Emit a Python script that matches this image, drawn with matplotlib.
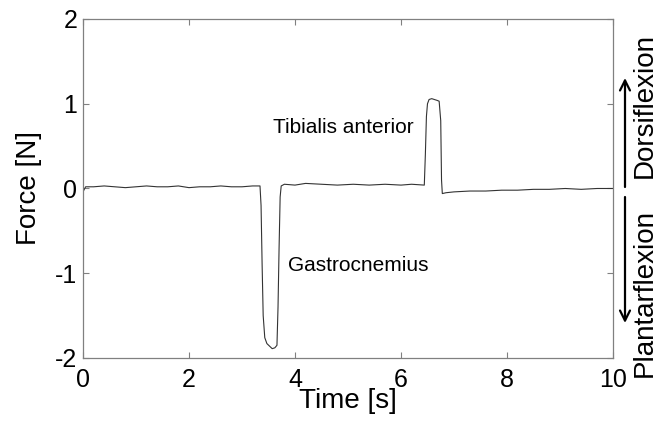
import numpy as np
import matplotlib
matplotlib.use("Agg")
import matplotlib.pyplot as plt

plt.rcParams['font.family'] = ['Liberation Sans', 'DejaVu Sans']
plt.rcParams['axes.unicode_minus'] = False

# Force trace (time in s, force in N)
t_base1 = [0.0, 0.05, 0.2, 0.4, 0.6, 0.8, 1.0, 1.2, 1.4, 1.6, 1.8, 2.0,
           2.2, 2.4, 2.6, 2.8, 3.0, 3.2, 3.34]
f_base1 = [-0.04, 0.02, 0.02, 0.03, 0.02, 0.01, 0.02, 0.03, 0.02, 0.02,
           0.03, 0.01, 0.02, 0.02, 0.03, 0.02, 0.02, 0.03, 0.03]

t_gastro = [3.36, 3.38, 3.40, 3.43, 3.47, 3.52, 3.57, 3.62, 3.66, 3.68,
            3.70, 3.72, 3.74]
f_gastro = [-0.2, -0.9, -1.5, -1.76, -1.83, -1.86, -1.89, -1.88, -1.85,
            -1.4, -0.7, -0.1, 0.03]

t_base2 = [3.8, 4.0, 4.2, 4.5, 4.8, 5.1, 5.4, 5.7, 6.0, 6.2, 6.44]
f_base2 = [0.05, 0.04, 0.06, 0.05, 0.04, 0.05, 0.04, 0.05, 0.04, 0.05, 0.04]

t_tib = [6.46, 6.48, 6.50, 6.53, 6.58, 6.63, 6.68, 6.72, 6.75, 6.765, 6.78]
f_tib = [0.4, 0.85, 1.0, 1.05, 1.06, 1.05, 1.04, 1.03, 0.8, 0.1, -0.06]

t_base3 = [6.85, 7.0, 7.3, 7.6, 7.9, 8.2, 8.5, 8.8, 9.1, 9.4, 9.7, 10.0]
f_base3 = [-0.05, -0.04, -0.03, -0.03, -0.02, -0.02, -0.01, -0.01, 0.0,
           -0.01, 0.0, 0.0]

time = np.array(t_base1 + t_gastro + t_base2 + t_tib + t_base3)
force = np.array(f_base1 + f_gastro + f_base2 + f_tib + f_base3)

x_ticks = [0, 2, 4, 6, 8, 10]
y_ticks = [-2, -1, 0, 1, 2]

fig = plt.figure(figsize=(6.57, 4.24), dpi=100)
ax = fig.add_axes([0.1263, 0.1557, 0.8067, 0.7995])

ax.plot(time, force, color='#333333', lw=0.8)

ax.set_xlim(0, 10)
ax.set_ylim(-2, 2)
ax.set_xticks(x_ticks)
ax.set_yticks(y_ticks)
ax.tick_params(direction='in', length=4, width=0.8, color='#808080',
               labelsize=18, top=True, right=True)
ax.tick_params(axis='x', pad=7)
ax.tick_params(axis='y', pad=4)
for s in ax.spines.values():
    s.set_color('#808080')
    s.set_linewidth(0.9)

ax.set_xlabel('Time [s]', fontsize=20)
ax.set_ylabel('Force [N]', fontsize=20)
ax.yaxis.set_label_coords(-0.078, 0.5)
ax.xaxis.set_label_coords(0.5, -0.088)

ax.text(3.58, 0.65, 'Tibialis anterior', fontsize=15)
ax.text(3.87, -0.97, 'Gastrocnemius', fontsize=15)

# direction arrows on the right
fx = 625 / 657
ax.annotate('', xy=(fx, 1 - 78 / 424), xytext=(fx, 1 - 187 / 424),
            xycoords='figure fraction',
            arrowprops=dict(arrowstyle='->', lw=1.6, color='black',
                            mutation_scale=18, shrinkA=0, shrinkB=0))
ax.annotate('', xy=(fx, 1 - 323 / 424), xytext=(fx, 1 - 197 / 424),
            xycoords='figure fraction',
            arrowprops=dict(arrowstyle='->', lw=1.6, color='black',
                            mutation_scale=18, shrinkA=0, shrinkB=0))
fig.text(652 / 657, 1 - 178 / 424, 'Dorsiflexion', fontsize=20, rotation=90,
         rotation_mode='anchor', ha='left', va='baseline')
fig.text(652 / 657, 1 - 377 / 424, 'Plantarflexion', fontsize=20, rotation=90,
         rotation_mode='anchor', ha='left', va='baseline')

fig.savefig('out.png', dpi=100)
